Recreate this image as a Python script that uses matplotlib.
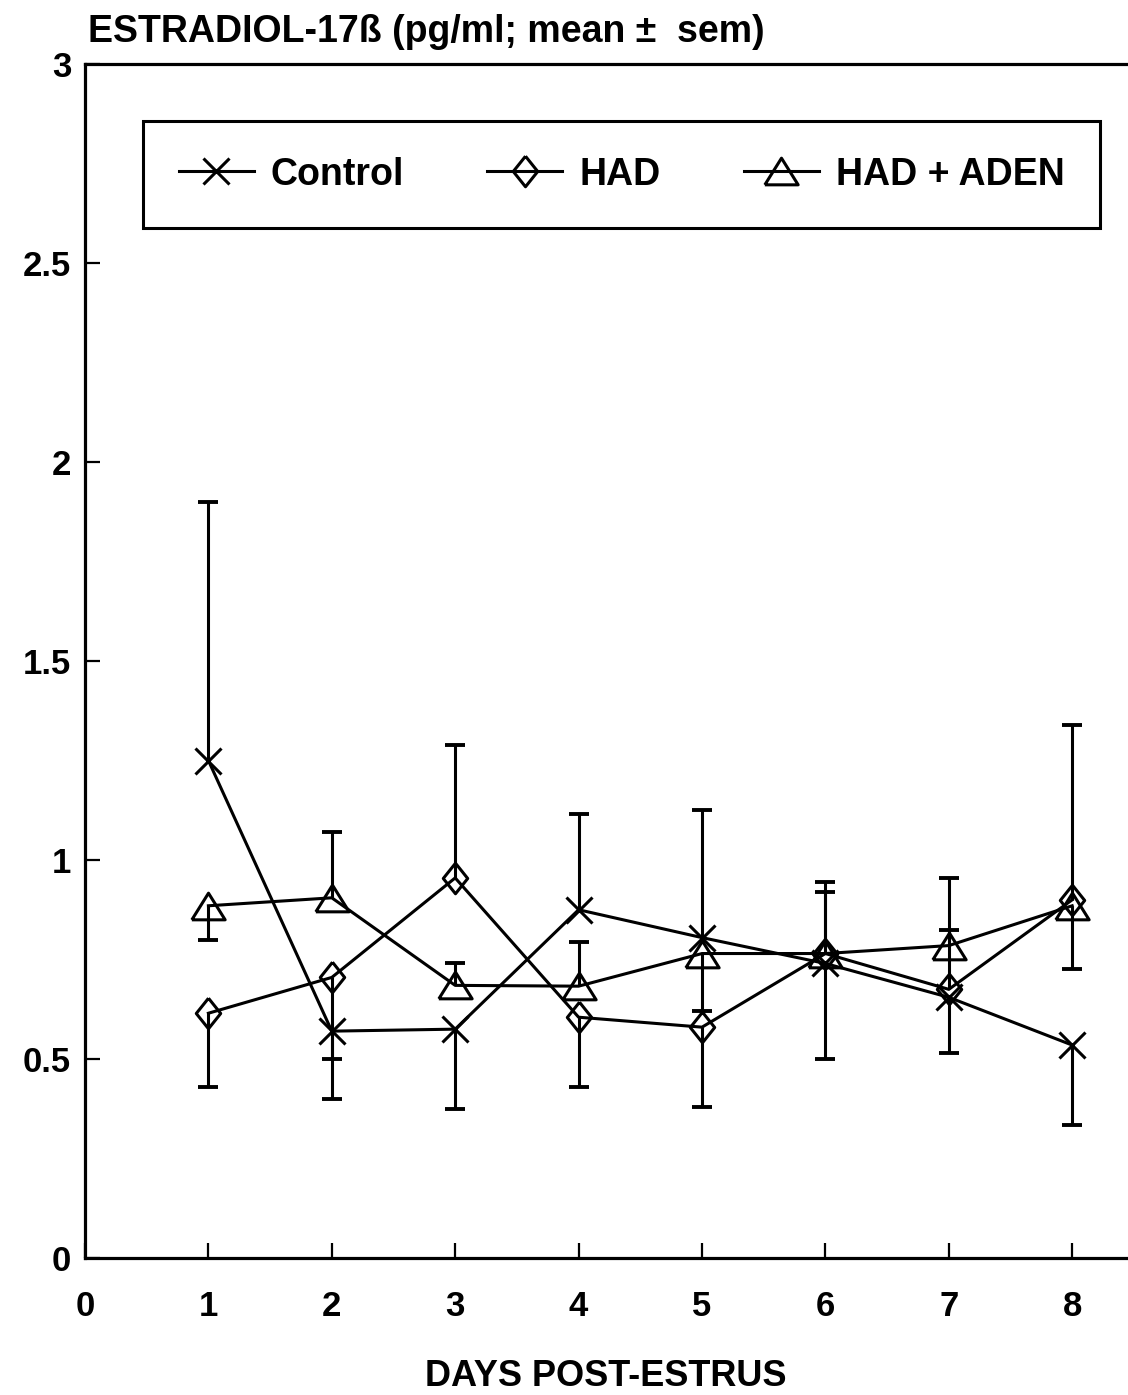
import numpy as np
import matplotlib
matplotlib.use('Agg')
import matplotlib.pyplot as plt

# estradiol means per day, with the end of the drawn sem bar (nan = no bar drawn)
days = np.arange(1, 9)

control = np.array([1.25, 0.57, 0.575, 0.875, 0.805, 0.74, 0.655, 0.535])
control_end = np.array([1.90, 0.40, 0.375, 1.115, 1.125, 0.50, 0.515, 0.335])

had = np.array([0.615, 0.705, 0.955, 0.605, 0.58, 0.765, 0.675, 0.90])
had_end = np.array([0.43, 0.50, 1.29, 0.43, 0.38, 0.92, 0.825, 1.34])

aden = np.array([0.885, 0.905, 0.685, 0.683, 0.765, 0.765, 0.785, 0.885])
aden_end = np.array([0.80, 1.07, 0.74, 0.795, 0.62, 0.945, 0.955, 0.725])

x_ticks = np.arange(0, 9)
y_ticks = np.array([0, 0.5, 1, 1.5, 2, 2.5, 3])
y_tick_labels = ['0', '0.5', '1', '1.5', '2', '2.5', '3']

series_names = ['Control', 'HAD', 'HAD + ADEN']

plt.rcParams['font.family'] = ['Liberation Sans', 'DejaVu Sans']
plt.rcParams['font.weight'] = 'bold'

# open markers
tri = [(-1, -0.8), (1, -0.8), (0, 0.8), (-1, -0.8)]
diamond = [(0, 1), (0.8, 0), (0, -1), (-0.8, 0), (0, 1)]


def draw_sem(ax, x, y, ends):
    # one-sided sem bar with a cap at its end
    m = ~np.isnan(ends)
    ax.vlines(x[m], y[m], ends[m], color='black', lw=2.2, zorder=2)
    ax.plot(x[m], ends[m], ls='none', marker='_', ms=15, mew=2.8, color='black', zorder=2)


fig = plt.figure(figsize=(11.28, 13.95), dpi=100)
ax = fig.add_axes([85 / 1128, 137 / 1395, 1 - 85 / 1128, 1194 / 1395])

for y, ends in [(control, control_end), (had, had_end), (aden, aden_end)]:
    draw_sem(ax, days, y, ends)

ax.plot(days, control, color='black', lw=2.2, marker='x', ms=19, mew=2.2,
        label=series_names[0], zorder=3)
ax.plot(days, had, color='black', lw=2.2, marker=diamond, ms=22, mew=2.2,
        fillstyle='none', label=series_names[1], zorder=3)
ax.plot(days, aden, color='black', lw=2.2, marker=tri, ms=24, mew=2.2,
        fillstyle='none', label=series_names[2], zorder=3)

ax.set_xlim(0, (1128 - 85) / 123.4)
ax.set_ylim(0, 3)
ax.set_xticks(x_ticks)
ax.set_yticks(y_ticks)
ax.set_yticklabels(y_tick_labels)
ax.tick_params(direction='in', length=11, width=1.6, labelsize=25)
ax.tick_params(axis='x', pad=23)
ax.tick_params(axis='y', pad=10)
ax.spines['right'].set_visible(False)
for side in ['left', 'top', 'bottom']:
    ax.spines[side].set_linewidth(2.3)

leg = ax.legend(loc='upper left', bbox_to_anchor=(0.0556, 0.8585, 0.9175, 0.0938),
                mode='expand', ncol=3, borderaxespad=0, fontsize=27,
                handlelength=2.0, handletextpad=0.45, borderpad=0.95,
                fancybox=False, framealpha=1, edgecolor='black')
leg.get_frame().set_linewidth(2.2)

fig.text(88 / 1128, 1 - 32 / 1395, 'ESTRADIOL-17ß (pg/ml; mean ±  sem)',
         fontsize=27, ha='left', va='center')
fig.text(606 / 1128, 1 - 1377 / 1395, 'DAYS POST-ESTRUS',
         fontsize=26, ha='center', va='center')

fig.savefig('out.png', dpi=100)
